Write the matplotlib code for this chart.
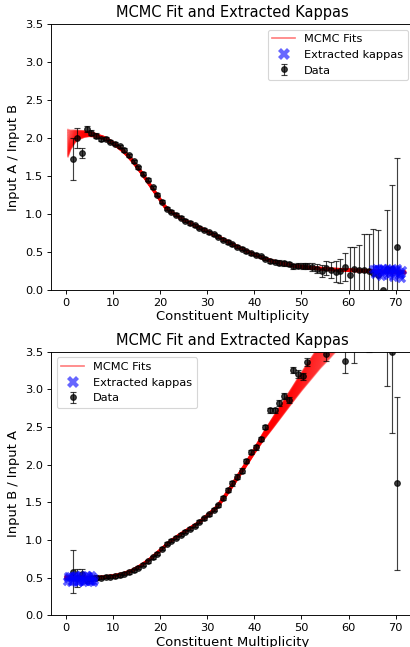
import numpy as np
import matplotlib
matplotlib.use("Agg")
import matplotlib.pyplot as plt
from matplotlib.lines import Line2D

# ---------------- data ----------------
mult = np.round(np.linspace(1.5, 70.2, 70), 2)

ratio_ab = [1.72, 2.00, 1.80, 2.12, 2.07, 2.03, 1.98, 1.99, 1.95, 1.92,
            1.89, 1.84, 1.77, 1.69, 1.61, 1.53, 1.45, 1.35, 1.25, 1.16,
            1.07, 1.03, 0.99, 0.95, 0.91, 0.88, 0.85, 0.82, 0.79, 0.76,
            0.73, 0.70, 0.66, 0.63, 0.60, 0.57, 0.54, 0.51, 0.48, 0.46,
            0.44, 0.41, 0.38, 0.37, 0.36, 0.35, 0.34, 0.31, 0.32, 0.31,
            0.31, 0.30, 0.28, 0.25, 0.29, 0.26, 0.24, 0.25, 0.30, 0.19,
            0.27, 0.26, 0.26, 0.25, 0.22, 0.19, 0.00, 0.27, 0.28, 0.57]
err_ab = [0.28, 0.13, 0.07, 0.04, 0.03, 0.03, 0.02, 0.02, 0.02, 0.02,
          0.02, 0.02, 0.02, 0.02, 0.02, 0.02, 0.02, 0.02, 0.02, 0.02,
          0.02, 0.02, 0.02, 0.02, 0.02, 0.02, 0.02, 0.02, 0.02, 0.02,
          0.02, 0.02, 0.02, 0.02, 0.02, 0.02, 0.02, 0.02, 0.02, 0.02,
          0.02, 0.02, 0.02, 0.02, 0.03, 0.03, 0.03, 0.03, 0.03, 0.04,
          0.04, 0.05, 0.06, 0.08, 0.09, 0.11, 0.14, 0.16, 0.18, 0.37,
          0.29, 0.33, 0.47, 0.48, 0.58, 0.60, 0.00, 0.78, 1.10, 1.16]

ratio_ba = [0.58, 0.50, 0.55, 0.47, 0.49, 0.50, 0.50, 0.51, 0.51, 0.52,
            0.53, 0.55, 0.57, 0.60, 0.63, 0.67, 0.72, 0.77, 0.82, 0.88,
            0.95, 0.99, 1.03, 1.07, 1.11, 1.15, 1.19, 1.24, 1.29, 1.34,
            1.40, 1.46, 1.56, 1.66, 1.75, 1.84, 1.92, 2.05, 2.17, 2.23,
            2.34, 2.50, 2.72, 2.72, 2.82, 2.91, 2.86, 3.25, 3.20, 3.17,
            3.36, 3.60, 3.75, 3.70, 3.47, 3.90, 4.10, 3.95, 3.38, 5.20,
            3.70, 3.85, 3.90, 4.00, 4.50, 5.20, np.nan, 3.90, 3.50, 1.75]
err_ba = [0.29, 0.12, 0.06, 0.04, 0.03, 0.03, 0.02, 0.02, 0.02, 0.02,
          0.02, 0.02, 0.02, 0.02, 0.02, 0.02, 0.02, 0.02, 0.02, 0.02,
          0.02, 0.02, 0.02, 0.02, 0.02, 0.02, 0.02, 0.02, 0.02, 0.02,
          0.02, 0.02, 0.03, 0.03, 0.03, 0.03, 0.03, 0.03, 0.03, 0.03,
          0.03, 0.03, 0.03, 0.03, 0.04, 0.04, 0.04, 0.04, 0.05, 0.05,
          0.05, 0.06, 0.07, 0.08, 0.10, 0.12, 0.14, 0.15, 0.17, 0.30,
          0.35, 0.30, 0.35, 0.50, 0.60, 0.80, 0.00, 0.85, 1.08, 1.15]

# MCMC fit band (central curve and half-width)
fit_x_top = [0.5, 1, 2, 3, 4, 5, 6, 7, 8, 9, 10, 11, 12, 13, 14, 15, 16, 17,
             18, 19, 20, 21, 22, 23, 24, 25, 26, 27, 28, 29, 30, 32, 34, 36,
             38, 40, 42, 44, 46, 48, 50, 52, 54, 56, 58, 60, 62, 64, 66, 68,
             70, 72]
fit_c_top = [1.93, 1.97, 2.02, 2.04, 2.05, 2.05, 2.04, 2.02, 2.00, 1.97,
             1.93, 1.89, 1.84, 1.78, 1.71, 1.63, 1.55, 1.46, 1.37, 1.28,
             1.19, 1.10, 1.04, 1.00, 0.96, 0.92, 0.89, 0.86, 0.83, 0.80,
             0.77, 0.71, 0.645, 0.58, 0.52, 0.465, 0.415, 0.375, 0.345,
             0.32, 0.305, 0.29, 0.28, 0.27, 0.265, 0.26, 0.255, 0.25, 0.245,
             0.24, 0.235, 0.23]
fit_s_top = [0.18, 0.13, 0.08, 0.055, 0.04, 0.03, 0.025, 0.02, 0.02, 0.02,
             0.02, 0.02, 0.02, 0.02, 0.02, 0.02, 0.02, 0.02, 0.02, 0.02,
             0.02, 0.02, 0.015, 0.015, 0.015, 0.015, 0.015, 0.015, 0.015,
             0.015, 0.015, 0.015, 0.015, 0.015, 0.015, 0.015, 0.015, 0.015,
             0.015, 0.015, 0.015, 0.015, 0.015, 0.015, 0.015, 0.015, 0.015,
             0.015, 0.015, 0.015, 0.015, 0.015]

fit_x_bot = [0, 2, 4, 6, 8, 10, 12, 14, 16, 18, 20, 22, 24, 26, 28, 30, 32,
             34, 36, 38, 40, 42, 44, 46, 48, 50, 52, 54, 56, 58]
fit_c_bot = [0.50, 0.50, 0.50, 0.50, 0.505, 0.52, 0.545, 0.59, 0.66, 0.75,
             0.86, 0.97, 1.06, 1.14, 1.22, 1.32, 1.43, 1.60, 1.79, 1.98,
             2.18, 2.38, 2.56, 2.74, 2.92, 3.10, 3.27, 3.44, 3.60, 3.76]
fit_s_bot = [0.02, 0.02, 0.015, 0.015, 0.015, 0.015, 0.015, 0.015, 0.015,
             0.015, 0.015, 0.015, 0.015, 0.015, 0.015, 0.02, 0.02, 0.025,
             0.03, 0.03, 0.035, 0.05, 0.07, 0.085, 0.10, 0.12, 0.14, 0.16,
             0.19, 0.21]

# extracted kappa samples
kx_top = [65.2, 65.8, 66.5, 67.1, 67.8, 68.4, 69.0, 69.7, 70.3, 70.9, 71.4,
          65.5, 66.2, 66.9, 67.5, 68.1, 68.8, 69.4, 70.0, 70.6, 71.2,
          65.9, 67.3, 68.6, 69.9, 71.0]
ky_top = [0.27, 0.24, 0.28, 0.22, 0.26, 0.20, 0.27, 0.23, 0.29, 0.21, 0.26,
          0.21, 0.27, 0.18, 0.25, 0.29, 0.22, 0.17, 0.25, 0.19, 0.16,
          0.29, 0.29, 0.26, 0.28, 0.23]
kx_bot = [0.3, 0.9, 1.5, 2.1, 2.7, 3.3, 3.9, 4.5, 5.1, 5.7, 6.0,
          0.6, 1.2, 1.8, 2.4, 3.0, 3.6, 4.2, 4.8, 5.4,
          0.4, 1.6, 2.9, 4.1, 5.3, 5.9]
ky_bot = [0.45, 0.52, 0.46, 0.53, 0.44, 0.50, 0.47, 0.53, 0.45, 0.51, 0.47,
          0.50, 0.44, 0.52, 0.48, 0.53, 0.44, 0.50, 0.52, 0.46,
          0.52, 0.49, 0.46, 0.45, 0.53, 0.44]

band_steps = np.linspace(-1, 1, 41)

# ---------------- figure ----------------
DPI = 82
fig = plt.figure(figsize=(410.2 / DPI, 647.2 / DPI), dpi=DPI)
W, H = 410.0, 647.0
ax1 = fig.add_axes([51 / W, 1 - 290 / H, (413.5 - 51) / W, (290 - 24) / H])
ax2 = fig.add_axes([51 / W, 1 - 615.3 / H, (413.5 - 51) / W, (615.3 - 351.7) / H])


def panel(ax, fx, fc, fs, y, e, kx, ky, ylabel, loc):
    fc = np.asarray(fc)
    fs = np.asarray(fs)
    for k in band_steps:
        ax.plot(fx, fc + k * fs, color="red", alpha=0.3, lw=1.5, zorder=2)
    ax.errorbar(mult, y, yerr=e, fmt="o", color="black", alpha=0.75,
                ms=5, capsize=3, elinewidth=1, zorder=3)
    ax.scatter(kx, ky, marker="X", s=70, color="blue", alpha=0.6,
               linewidths=0, zorder=4)
    ax.set_xlim(-3.1, 73.8)
    ax.set_ylim(0, 3.5)
    ax.set_title("MCMC Fit and Extracted Kappas", fontsize=12.8)
    ax.set_xlabel("Constituent Multiplicity", fontsize=11.5, labelpad=2)
    ax.set_ylabel(ylabel, fontsize=11.5)
    h_fit = Line2D([], [], color="red", alpha=0.5, lw=1.5)
    h_k = Line2D([], [], marker="X", ls="none", color="blue", alpha=0.6,
                 ms=10, mew=0)
    h_d = ax.containers[0]
    ax.legend([h_fit, h_k, h_d], ["MCMC Fits", "Extracted kappas", "Data"],
              loc=loc, fontsize=10)


panel(ax1, fit_x_top, fit_c_top, fit_s_top, ratio_ab, err_ab, kx_top, ky_top,
      "Input A / Input B", "upper right")
panel(ax2, fit_x_bot, fit_c_bot, fit_s_bot, ratio_ba, err_ba, kx_bot, ky_bot,
      "Input B / Input A", "upper left")

fig.savefig("out.png", dpi=DPI)
